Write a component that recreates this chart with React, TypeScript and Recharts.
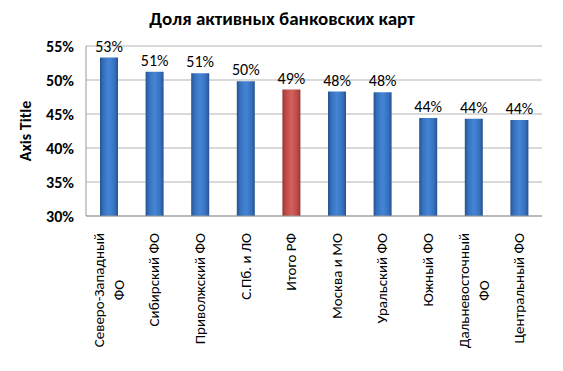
import React from 'react';
import { BarChart, Bar, XAxis, YAxis, CartesianGrid, Cell, LabelList } from 'recharts';

const categories = [
  'Северо-Западный\nФО',
  'Сибирский ФО',
  'Приволжский ФО',
  'С.Пб. и ЛО',
  'Итого РФ',
  'Москва и МО',
  'Уральский ФО',
  'Южный ФО',
  'Дальневосточный\nФО',
  'Центральный ФО',
];
const shares = [53.3, 51.2, 51.0, 49.8, 48.6, 48.3, 48.2, 44.4, 44.3, 44.1];
const highlighted = ['Итого РФ'];
const yTicks = [30, 35, 40, 45, 50, 55];

const data = categories.map((name, i) => ({ name, value: shares[i] }));

const FONT = 'Carlito, "Liberation Sans", Arial, sans-serif';

let ctx: CanvasRenderingContext2D | null = null;
function measure(text: string, font: string) {
  if (!ctx) ctx = document.createElement('canvas').getContext('2d');
  if (!ctx) return text.length * 8;
  ctx.font = font;
  return ctx.measureText(text).width;
}

const CategoryTick = (props: any) => {
  const { x, payload } = props;
  const lines = String(payload.value).split('\n');
  const font = `15px ${FONT}`;
  const maxW = Math.max(...lines.map((l) => measure(l, font)));
  const lineH = 20;
  return (
    <g transform={`translate(${x},233) rotate(-90)`}>
      {lines.map((l, i) => (
        <text
          key={i}
          x={-maxW / 2}
          y={(i - (lines.length - 1) / 2) * lineH}
          textAnchor="middle"
          dominantBaseline="central"
          fontSize={15}
          fontFamily={FONT}
          fill="#000"
        >
          {l}
        </text>
      ))}
    </g>
  );
};

export default function App() {
  return (
    <div style={{ position: 'absolute', left: 0, top: 0, width: 563, height: 371, background: '#fff' }}>
      <BarChart
        width={563}
        height={371}
        data={data}
        margin={{ top: 46, right: 21, left: 0, bottom: 0 }}
      >
        <defs>
          <linearGradient id="blueBar" x1="0" y1="0" x2="1" y2="0">
            <stop offset="0%" stopColor="#24518f" />
            <stop offset="18%" stopColor="#3670bd" />
            <stop offset="50%" stopColor="#4585d6" />
            <stop offset="82%" stopColor="#3670bd" />
            <stop offset="100%" stopColor="#24518f" />
          </linearGradient>
          <linearGradient id="redBar" x1="0" y1="0" x2="1" y2="0">
            <stop offset="0%" stopColor="#953533" />
            <stop offset="18%" stopColor="#bd4a47" />
            <stop offset="50%" stopColor="#d2605c" />
            <stop offset="82%" stopColor="#bd4a47" />
            <stop offset="100%" stopColor="#953533" />
          </linearGradient>
        </defs>
        <CartesianGrid vertical={false} stroke="#b3b3b3" />
        <XAxis
          dataKey="name"
          interval={0}
          height={155}
          tickLine={false}
          axisLine={{ stroke: '#999' }}
          tick={<CategoryTick />}
        />
        <YAxis
          width={86}
          domain={[30, 55]}
          ticks={yTicks}
          tickFormatter={(v: number) => `${v}%`}
          tickLine={false}
          axisLine={{ stroke: '#999' }}
          tick={{ fontSize: 16, fontWeight: 'bold', fontFamily: FONT, fill: '#000' }}
          tickMargin={6}
        />
        <Bar dataKey="value" isAnimationActive={false} barSize={18}>
          {data.map((d) => (
            <Cell key={d.name} fill={highlighted.includes(d.name) ? 'url(#redBar)' : 'url(#blueBar)'} />
          ))}
          <LabelList
            dataKey="value"
            position="top"
            offset={6}
            formatter={(v: any) => `${Math.round(Number(v))}%`}
            style={{ fontSize: 16, fontFamily: FONT, fill: '#000' }}
          />
        </Bar>
      </BarChart>
      <svg width={563} height={371} style={{ position: 'absolute', left: 0, top: 0, pointerEvents: 'none' }}>
        <text x={282} y={25} textAnchor="middle" fontSize={19} fontWeight="bold" fontFamily={FONT} fill="#000">
          Доля активных банковских карт
        </text>
        <text
          transform="translate(25,131) rotate(-90)"
          textAnchor="middle"
          dominantBaseline="central"
          fontSize={16}
          fontWeight="bold"
          fontFamily={FONT}
          fill="#000"
        >
          Axis Title
        </text>
      </svg>
    </div>
  );
}
